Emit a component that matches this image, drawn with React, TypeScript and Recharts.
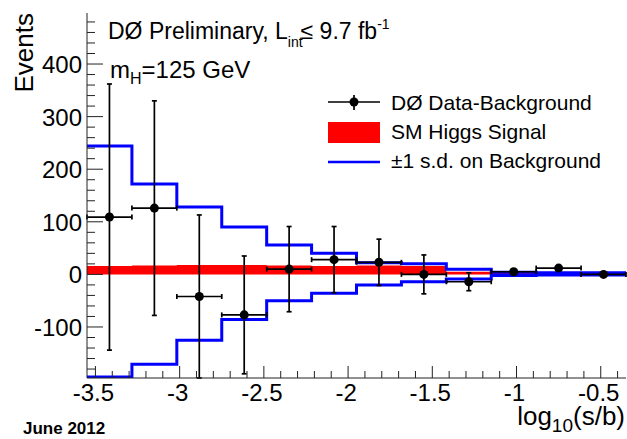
import React from 'react';
import { ComposedChart, Line, Area, Scatter, XAxis, YAxis, ErrorBar } from 'recharts';

// bin edges in log10(s/b)
const binEdges = [-3.55, -3.2833, -3.0167, -2.75, -2.4833, -2.2167, -1.95, -1.6833, -1.4167, -1.15, -0.8833, -0.6167, -0.35];
// SM Higgs signal per bin
const signal = [16, 17, 18, 18, 17, 16, 17, 16, 5, 3, 3, 3];
// +/- 1 s.d. on background
const upperSD = [244, 172, 128, 90, 56, 40, 22, 20, 10, 4, 3, 3];
const lowerSD = [-195, -171, -125, -86, -50, -36, -20, -14, -9, -2, -1, -1];
// data - background points
const binCenters = [-3.4167, -3.15, -2.8833, -2.6167, -2.35, -2.0833, -1.8167, -1.55, -1.2833, -1.0167, -0.75, -0.4833];
const dataMinusBkg = [109, 126, -42, -77, 10, 28, 23, 0, -14, 5, 12, 0];
const dataErr = [253, 204, 155, 112, 81, 63, 44, 37, 17, 3, 3, 2];
const binHalfWidth = 0.1333;

const xMajorTicks = [-3.5, -3, -2.5, -2, -1.5, -1, -0.5];
const yMajorTicks = [-100, 0, 100, 200, 300, 400];

const X_DOMAIN: [number, number] = [-3.55, -0.35];
const Y_DOMAIN: [number, number] = [-197, 497];

const stepData = binEdges.map((x, i) => {
  const j = Math.min(i, signal.length - 1);
  return { x, sig: signal[j], up: upperSD[j], lo: lowerSD[j] };
});
const pointData = binCenters.map((x, i) => ({ x, y: dataMinusBkg[i], ey: dataErr[i], ex: binHalfWidth }));

const xTicks: number[] = [];
for (let k = -35; k <= -4; k++) xTicks.push(k / 10);
const yTicks: number[] = [];
for (let v = -180; v <= 480; v += 20) yTicks.push(v);

const FONT = '"Liberation Sans", Arial, Helvetica, sans-serif';
const FRAME = '#222';

const isMajorX = (v: number) => xMajorTicks.some((m) => Math.abs(m - v) < 1e-6);
const isMajorY = (v: number) => yMajorTicks.some((m) => Math.abs(m - v) < 1e-6);

const XTick = (props: any) => {
  const { x, y, payload } = props;
  const v = payload.value as number;
  const major = isMajorX(v);
  return (
    <g>
      <line x1={x} x2={x} y1={y} y2={y - (major ? 12 : 7)} stroke={FRAME} strokeWidth={1} />
      {major && (
        <text x={x - 2} y={y + 23} textAnchor="middle" fontSize={24} fontFamily={FONT} fill="#000">
          {String(v)}
        </text>
      )}
    </g>
  );
};

const YTick = (props: any) => {
  const { x, y, payload } = props;
  const v = payload.value as number;
  const major = isMajorY(v);
  return (
    <g>
      <line x1={x} x2={x + (major ? 16 : 8)} y1={y} y2={y} stroke={FRAME} strokeWidth={1} />
      {major && (
        <text x={x - 5} y={y + 9} textAnchor="end" fontSize={24} fontFamily={FONT} fill="#000">
          {String(v)}
        </text>
      )}
    </g>
  );
};

export default function App() {
  return (
    <div style={{ position: 'absolute', left: 0, top: 0, width: 627, height: 439, background: '#fff', fontFamily: FONT }}>
      <ComposedChart width={627} height={439} margin={{ top: 13, right: 1, left: 0, bottom: 0 }}>
        <XAxis
          dataKey="x"
          type="number"
          domain={X_DOMAIN}
          allowDataOverflow
          ticks={xTicks}
          interval={0}
          tick={<XTick />}
          tickLine={false}
          tickSize={0}
          tickMargin={0}
          height={61}
          axisLine={{ stroke: FRAME, strokeWidth: 1 }}
        />
        <XAxis
          xAxisId="top"
          orientation="top"
          dataKey="x"
          type="number"
          domain={X_DOMAIN}
          allowDataOverflow
          tick={false}
          tickLine={false}
          height={0}
          axisLine={{ stroke: FRAME, strokeWidth: 1 }}
        />
        <YAxis
          type="number"
          domain={Y_DOMAIN}
          allowDataOverflow
          ticks={yTicks}
          interval={0}
          tick={<YTick />}
          tickLine={false}
          tickSize={0}
          tickMargin={0}
          width={87}
          axisLine={{ stroke: FRAME, strokeWidth: 1 }}
        />
        <YAxis
          yAxisId="right"
          orientation="right"
          type="number"
          domain={Y_DOMAIN}
          allowDataOverflow
          tick={false}
          tickLine={false}
          width={0}
          axisLine={{ stroke: FRAME, strokeWidth: 1 }}
        />
        <Area
          data={stepData}
          dataKey="sig"
          type="stepAfter"
          baseValue={0}
          fill="#ff0000"
          fillOpacity={1}
          stroke="none"
          dot={false}
          activeDot={false}
          isAnimationActive={false}
        />
        <Line
          data={stepData}
          dataKey="up"
          type="stepAfter"
          stroke="#0000ff"
          strokeWidth={3}
          dot={false}
          activeDot={false}
          isAnimationActive={false}
        />
        <Line
          data={stepData}
          dataKey="lo"
          type="stepAfter"
          stroke="#0000ff"
          strokeWidth={3}
          dot={false}
          activeDot={false}
          isAnimationActive={false}
        />
        <Scatter data={pointData} dataKey="y" fill="#000" isAnimationActive={false}>
          <ErrorBar dataKey="ey" direction="y" width={2.5} stroke="#000" strokeWidth={1.7} />
          <ErrorBar dataKey="ex" direction="x" width={2.5} stroke="#000" strokeWidth={1.7} />
        </Scatter>
      </ComposedChart>
      <svg
        width={627}
        height={439}
        style={{ position: 'absolute', left: 0, top: 0, pointerEvents: 'none' }}
        fontFamily={FONT}
      >
        <text x={108} y={39} fontSize={23} fill="#000">
          DØ Preliminary, L
          <tspan fontSize={14} dy={8}>int</tspan>
          <tspan dy={-8} dx={-2}>≤ 9.7 fb</tspan>
          <tspan fontSize={14} dy={-10}>-1</tspan>
        </text>
        <text x={110} y={78} fontSize={24} fill="#000">
          m<tspan fontSize={16} dy={6}>H</tspan>
          <tspan dy={-6}>=125 GeV</tspan>
        </text>
        <text x={33} y={13} fontSize={26} fill="#000" textAnchor="end" transform="rotate(-90 33 13)">
          Events
        </text>
        <text x={625} y={425} fontSize={26} fill="#000" textAnchor="end">
          log<tspan fontSize={19} dy={7}>10</tspan>
          <tspan dy={-7}>(s/b)</tspan>
        </text>
        <text x={23} y={434} fontSize={17} fontWeight="bold" fill="#000">
          June 2012
        </text>
        {/* legend */}
        <line x1={328} x2={380} y1={102} y2={102} stroke="#000" strokeWidth={1.7} />
        <line x1={354} x2={354} y1={95} y2={110} stroke="#000" strokeWidth={1.7} />
        <circle cx={354} cy={102} r={4.5} fill="#000" />
        <text x={391} y={110} fontSize={21} fill="#000">DØ Data-Background</text>
        <rect x={328} y={122} width={52} height={21} fill="#ff0000" />
        <text x={391} y={139} fontSize={21} fill="#000">SM Higgs Signal</text>
        <line x1={328} x2={380} y1={162} y2={162} stroke="#0000ff" strokeWidth={2.5} />
        <text x={391} y={168} fontSize={21} fill="#000">±1 s.d. on Background</text>
      </svg>
    </div>
  );
}
